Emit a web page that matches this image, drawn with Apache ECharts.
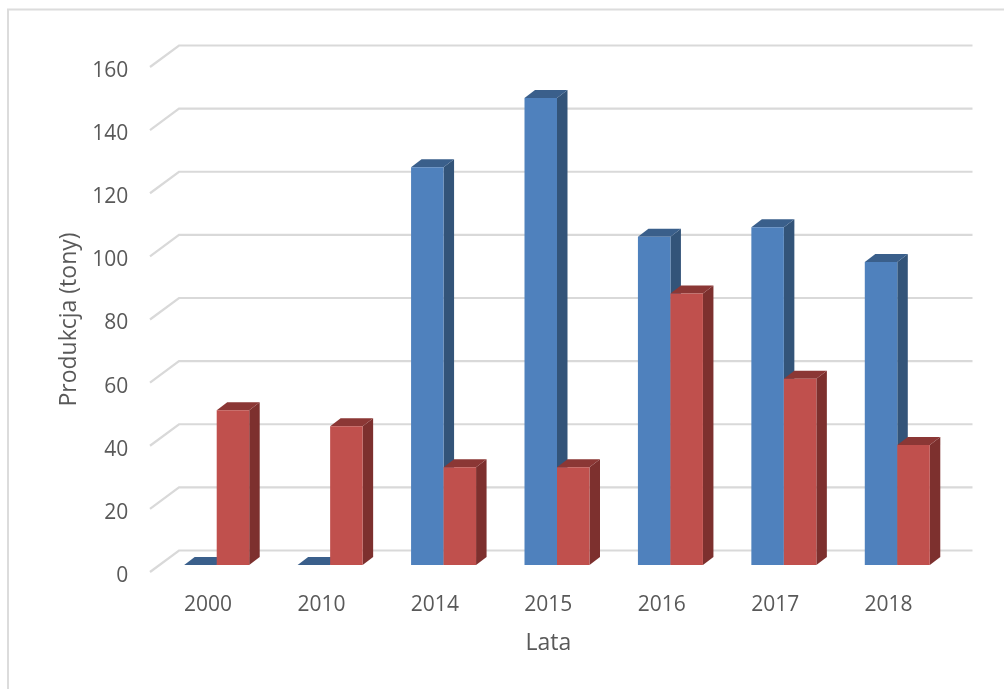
<!DOCTYPE html>
<html><head><meta charset="utf-8">
<style>html,body{margin:0;padding:0;background:#fff}#c{width:1004px;height:689px}</style>
<script src="https://cdn.jsdelivr.net/npm/echarts@6/dist/echarts.min.js"></script>
</head><body><div id="c"></div>
<script>
const categories=['2000','2010','2014','2015','2016','2017','2018'];
const blueValues=[0,0,126,148,104,107,96];
const redValues=[49,44,31,31,86,59,38];
const ticks=[0,20,40,60,80,100,120,140,160];
const DX=10.5,DY=8,BASE=7,BW=32.5,SHIFT=8.7,WALLX=29,WALLY=21.5;
const chart=echarts.init(document.getElementById('c'),null,{renderer:'canvas'});
function bar(color,side,top,dir){
  return function(params,api){
    const i=api.value(0),v=api.value(1);
    const p=api.coord([i,v]);
    const cx=p[0]+SHIFT;
    const x0=dir<0?cx-BW:cx,x1=x0+BW;
    const yb=api.coord([i,0])[1]-BASE,yt=p[1]-BASE;
    const children=[];
    if(yb-yt>0.5){
      children.push({type:'polygon',shape:{points:[[x1,yt],[x1+DX,yt-DY],[x1+DX,yb-DY],[x1,yb]]},style:{fill:side}});
    }
    children.push({type:'polygon',shape:{points:[[x0,yt],[x0+DX,yt-DY],[x1+DX,yt-DY],[x1,yt]]},style:{fill:top}});
    if(yb-yt>0.5){
      children.push({type:'rect',shape:{x:x0,y:yt,width:BW,height:yb-yt},style:{fill:color}});
    }
    return {type:'group',children};
  };
}
chart.setOption({
  animation:false,
  backgroundColor:'#fff',
  grid:{left:151.3,width:794,top:67,height:505},
  graphic:[{type:'polyline',silent:true,shape:{points:[[8,689],[8,9.5],[1004,9.5]]},style:{stroke:'#dcdcdc',lineWidth:2,fill:null},z:-1}],
  xAxis:{type:'category',data:categories,
    name:'Lata',nameLocation:'middle',nameGap:60,
    nameTextStyle:{fontFamily:'Open Sans',fontSize:23,color:'#595959'},
    axisLine:{show:false},axisTick:{show:false},
    axisLabel:{fontFamily:'Open Sans',fontSize:21,color:'#595959',margin:23}},
  yAxis:{type:'value',min:0,max:160,interval:20,
    name:'Produkcja (tony)',nameLocation:'middle',nameGap:70,
    nameTextStyle:{fontFamily:'Open Sans',fontSize:23,color:'#595959'},
    axisLine:{show:false},axisTick:{show:false},splitLine:{show:false},
    axisLabel:{margin:23,formatter:'{a|{value}}',
      rich:{a:{fontFamily:'Open Sans',fontSize:21,color:'#595959',padding:[8,0,0,0]}}}},
  series:[
    {type:'custom',name:'grid',silent:true,z:1,clip:false,data:ticks.map(t=>[0,t]),
     renderItem:function(params,api){
       const v=api.value(1);
       const p=api.coord([0,v]);
       const s=api.size([1,0])[0];
       const x0=p[0]-s/2-1.3;
       const y=p[1];
       const xr=x0+s*7+WALLX-0.5;
       return {type:'polyline',shape:{points:[[x0,y],[x0+WALLX,y-WALLY],[xr,y-WALLY]]},
         style:{stroke:'#d9d9d9',lineWidth:2.2,fill:null}};
     }},
    {type:'custom',name:'Blue',z:2,clip:false,data:categories.map((c,i)=>[i,blueValues[i]]),
     renderItem:bar('#4f81bd','#335479','#3a5f8b',-1)},
    {type:'custom',name:'Red',z:3,clip:false,data:categories.map((c,i)=>[i,redValues[i]]),
     renderItem:bar('#c0504d','#7d302e','#8b3735',1)}
  ]
});
</script></body></html>
